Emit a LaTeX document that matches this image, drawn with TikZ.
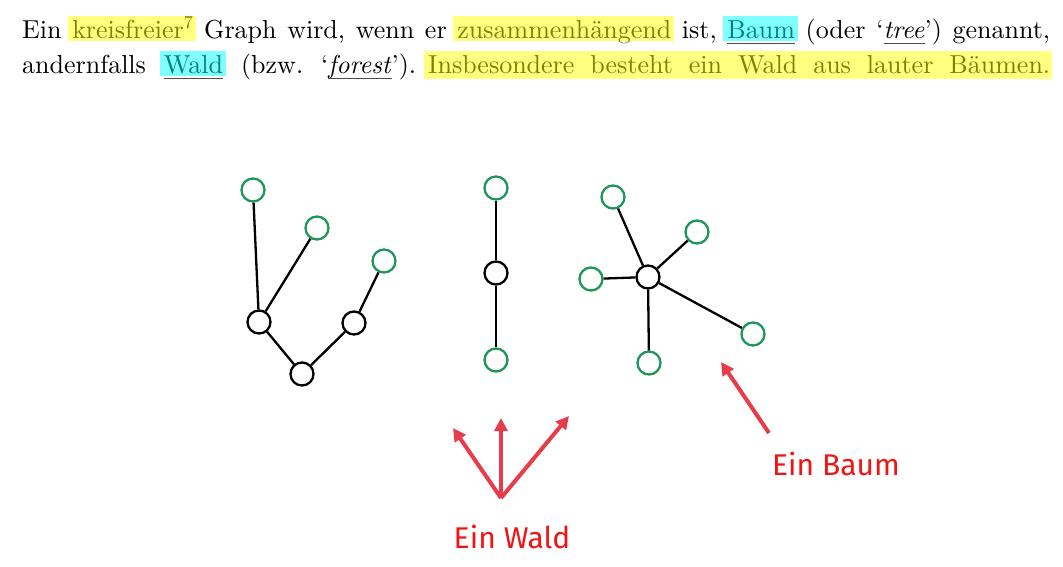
\documentclass[tikz,border=0pt]{standalone}
\usepackage{fontspec}
\setmainfont{lmroman10-regular.otf}[ItalicFont=lmroman10-italic.otf,BoldFont=lmroman10-bold.otf]
\newfontfamily\handfont{Fira Sans}
\usetikzlibrary{arrows.meta}
\definecolor{hlY}{RGB}{255,255,128}
\definecolor{hlYt}{RGB}{128,128,0}
\definecolor{hlC}{RGB}{128,255,255}
\definecolor{hlCt}{RGB}{0,128,128}
\definecolor{nodegreen}{RGB}{30,150,90}
\definecolor{arrowred}{RGB}{230,60,75}
\definecolor{labelred}{RGB}{240,20,20}
\newcommand\myhl[3]{%
  \setbox0\hbox{#3}%
  \kern-4pt\rlap{\color{#1}\rule[-3pt]{\dimexpr\wd0+7pt\relax}{25pt}}\kern4pt
  \textcolor{#2}{#3}}
\newcommand\myul[1]{%
  \setbox2\hbox{#1}%
  \rlap{\color{black!70}\rule[-6pt]{\wd2}{1.4pt}}\box2}
\tikzset{
  bodytext/.style={inner sep=0pt,anchor=base west,font=\fontsize{26pt}{31pt}\selectfont\frenchspacing},
  bn/.style={circle,draw=black,line width=2.3pt,minimum size=23pt,inner sep=0pt,fill=white},
  gn/.style={bn,draw=nodegreen},
  edge/.style={line width=2.3pt,black},
  redarrow/.style={arrowred,line width=4pt,-{Triangle[length=13pt,width=13pt]}},
  handlabel/.style={font=\handfont\fontsize{30pt}{34pt}\selectfont,text=labelred,anchor=base,inner sep=0pt}
}
\begin{document}
\begin{tikzpicture}[x=1pt,y=-1pt]
\fill[white] (0,0) rectangle (1063,566);
\useasboundingbox (0,0) rectangle (1063,566);
% text
\node[bodytext] (line1) at (22,38) {\makebox[1028pt][s]{Ein \myhl{hlY}{hlYt}{kreisfreier\textsuperscript{7}} Graph wird, wenn er \myhl{hlY}{hlYt}{zusammenhängend} ist, \myhl{hlC}{hlCt}{\myul{Baum}} (oder ‘\myul{\textit{tree}}’) genannt,}};
\node[bodytext] (line2a) at (22,73) {\makebox[394pt][s]{andernfalls \myhl{hlC}{hlCt}{\myul{Wald}} (bzw. ‘\myul{\textit{forest}}’).}};
\fill[hlY] (424,51) rectangle (1052,79);
\node[bodytext,text=hlYt] (line2b) at (428,73) {\makebox[622pt][s]{Insbesondere besteht ein Wald aus lauter Bäumen.}};
% left tree
\node[gn] (a1) at (253,190) {};
\node[gn] (a2) at (317,228) {};
\node[gn] (a3) at (384,261) {};
\node[bn] (a4) at (259,322) {};
\node[bn] (a5) at (302,374) {};
\node[bn] (a6) at (354,323) {};
\draw[edge] (a1) -- (a4);
\draw[edge] (a2) -- (a4);
\draw[edge] (a4) -- (a5);
\draw[edge] (a5) -- (a6);
\draw[edge] (a6) -- (a3);
% middle tree
\node[gn] (b1) at (496,188) {};
\node[bn] (b2) at (496,273) {};
\node[gn] (b3) at (496,360) {};
\draw[edge] (b1) -- (b2);
\draw[edge] (b2) -- (b3);
% right tree
\node[bn] (c0) at (648,277) {};
\node[gn] (c1) at (613,197) {};
\node[gn] (c2) at (697,232) {};
\node[gn] (c3) at (591,279) {};
\node[gn] (c4) at (753,334) {};
\node[gn] (c5) at (649,363) {};
\foreach \t in {c1,c2,c3,c4,c5} \draw[edge] (c0) -- (\t);
% arrows
\coordinate (w0) at (501,498);
\coordinate (w1) at (453,428);
\coordinate (w2) at (501,418);
\coordinate (w3) at (569,416);
\draw[redarrow] (w0) -- (w1);
\draw[redarrow] (w0) -- (w2);
\draw[redarrow] (w0) -- (w3);
\coordinate (t0) at (769,433);
\coordinate (t1) at (721,362);
\draw[redarrow] (t0) -- (t1);
% labels
\node[handlabel] (wald) at (512,548) {Ein Wald};
\node[handlabel] (baum) at (836,475) {Ein Baum};
\end{tikzpicture}
\end{document}
